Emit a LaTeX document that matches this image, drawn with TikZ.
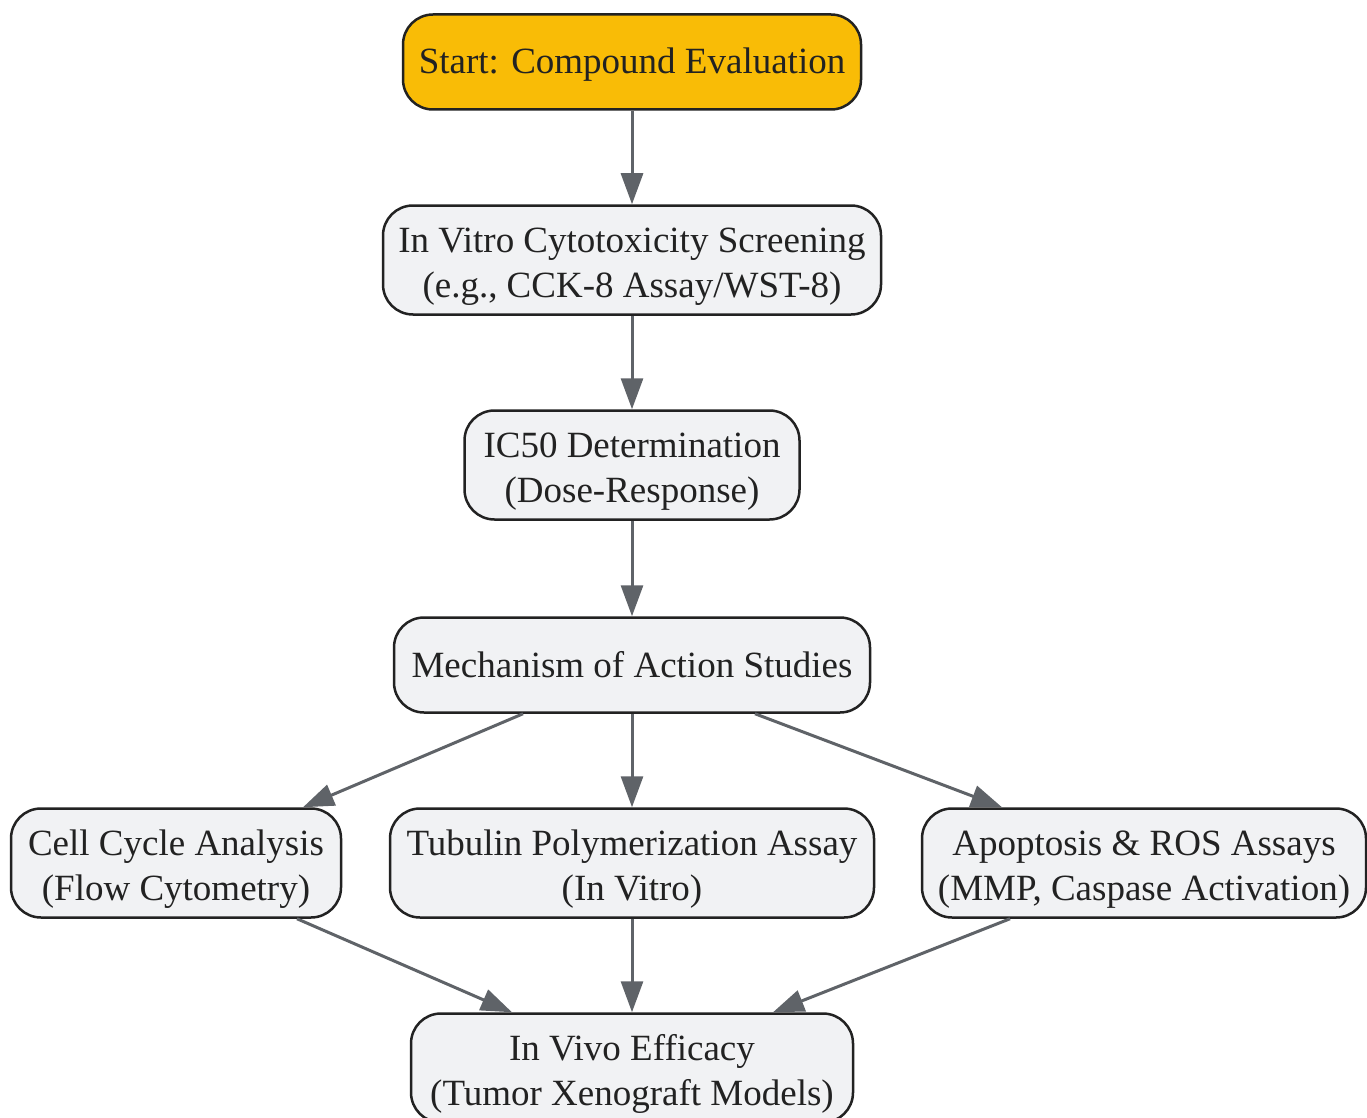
\documentclass[tikz,border=0pt]{standalone}
\usepackage{fontspec}
\setmainfont{Liberation Serif}
\usepackage{tikz}
\usetikzlibrary{arrows.meta}

\definecolor{boxfill}{HTML}{F1F2F4}
\definecolor{boxline}{HTML}{222222}
\definecolor{startfill}{HTML}{F9BC06}
\definecolor{flowline}{HTML}{5F6368}

\tikzset{
  box/.style={draw=boxline,fill=boxfill,line width=2.5pt,rounded corners=30pt,
    align=center,text=boxline,font=\fontsize{37}{45}\selectfont,inner sep=0pt,
    text height=88pt,text depth=14pt},
  oneline/.style={box,text height=38pt},
  startbox/.style={oneline,fill=startfill},
  flow/.style={draw=flowline,line width=3pt,-{Triangle[length=31pt,width=22pt]}}
}

\begin{document}
\begin{tikzpicture}[x=1pt,y=1pt]
    \useasboundingbox (0,0) rectangle (1367,-1118);
    % Draw the stages down the middle
    \node[startbox,minimum width=458pt,minimum height=95pt] (start) at (632,-62) {Start: Compound Evaluation};
    \node[box,minimum width=498pt,minimum height=109pt] (screen) at (632,-260) {In Vitro Cytotoxicity Screening\\(e.g., CCK-8 Assay/WST-8)};
    \node[box,minimum width=335pt,minimum height=109pt] (ic50) at (632,-465) {IC50 Determination\\(Dose-Response)};
    \node[oneline,minimum width=476pt,minimum height=95pt] (mech) at (632,-665) {Mechanism of Action Studies};
    % Draw the three assays
    \node[box,minimum width=330pt,minimum height=109pt] (cell) at (176,-863) {Cell Cycle Analysis\\(Flow Cytometry)};
    \node[box,minimum width=484pt,minimum height=109pt] (tub) at (632,-863) {Tubulin Polymerization Assay\\(In Vitro)};
    \node[box,minimum width=444pt,minimum height=109pt] (apop) at (1144,-863) {Apoptosis \& ROS Assays\\(MMP, Caspase Activation)};
    \node[box,minimum width=442pt,minimum height=109pt] (vivo) at (632,-1068) {In Vivo Efficacy\\(Tumor Xenograft Models)};
    % Draw the arrows
    \draw[flow] (start) -- (screen);
    \draw[flow] (screen) -- (ic50);
    \draw[flow] (ic50) -- (mech);
    \draw[flow] ([xshift=-109pt]mech.south) -- ([xshift=127pt]cell.north);
    \draw[flow] (mech) -- (tub);
    \draw[flow] ([xshift=123pt]mech.south) -- ([xshift=-142pt]apop.north);
    \draw[flow] ([xshift=121pt]cell.south) -- ([xshift=-120pt]vivo.north);
    \draw[flow] (tub) -- (vivo);
    \draw[flow] ([xshift=-134pt]apop.south) -- ([xshift=141pt]vivo.north);
  \end{tikzpicture}
\end{document}
